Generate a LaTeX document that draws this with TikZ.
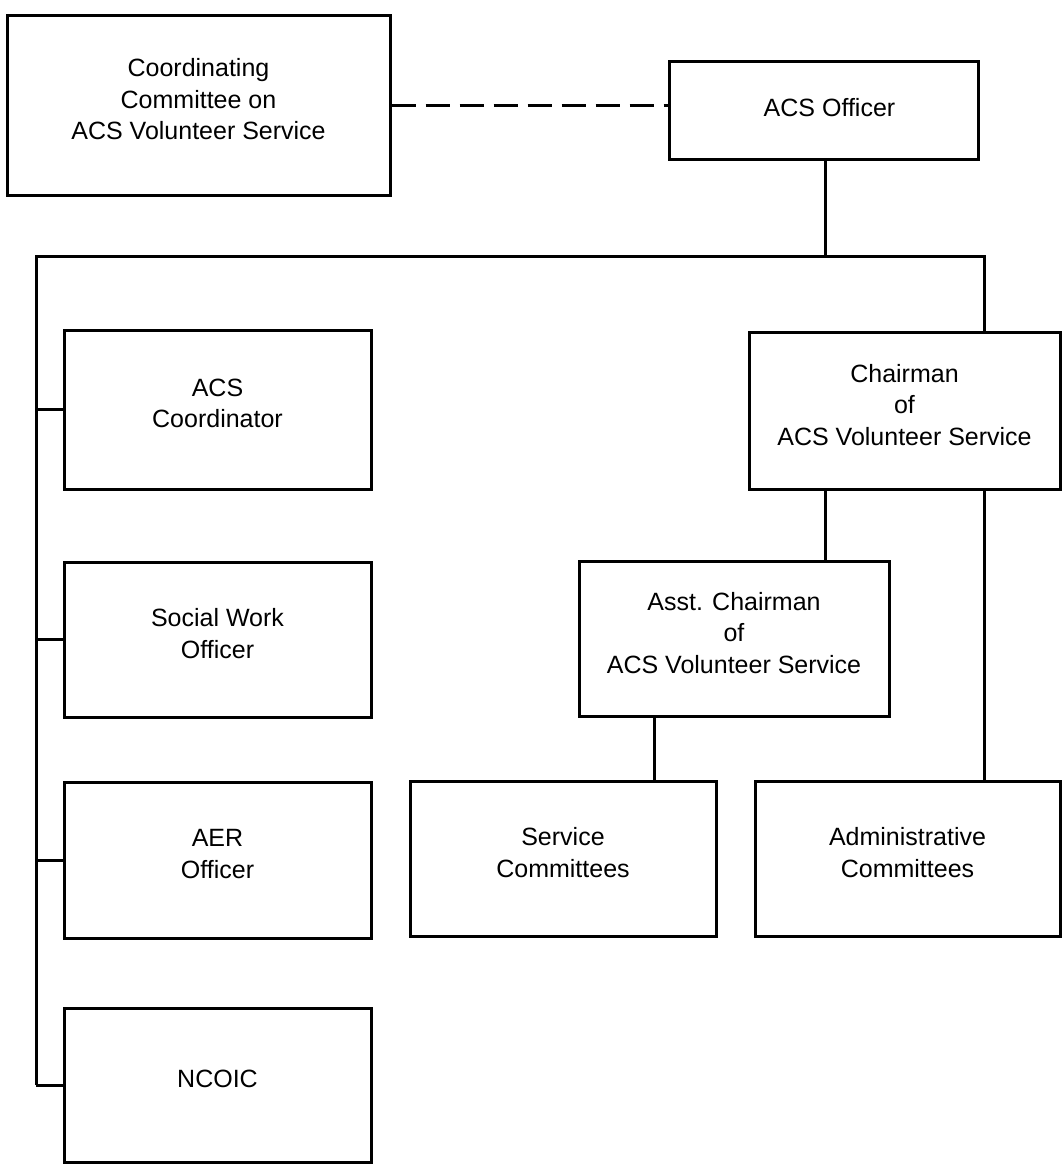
\documentclass[tikz,border=0pt]{standalone}
\usepackage{fontspec}
\setmainfont{Liberation Sans}
\begin{document}
\begin{tikzpicture}[x=1pt,y=-1pt,
  box/.style={draw, line width=3pt, rectangle, inner sep=0pt, align=center,
    font=\fontsize{25}{31.5}\selectfont, text depth=12pt},
  conn/.style={line width=3pt},
  dashconn/.style={line width=3pt, dash pattern=on 24pt off 10pt}]
\useasboundingbox (0,0) rectangle (1062,1168);
% boxes
\node[box, minimum width=383pt, minimum height=180pt] (coord) at (198.5,105) {Coordinating\\Committee on\\ACS Volunteer Service};
\node[box, minimum width=309pt, minimum height=98pt, text depth=6pt] (acso) at (823.5,110) {\hspace*{12pt}ACS Officer};
\node[box, minimum width=311pt, minimum height=157pt] (chair) at (904.5,410.5) {Chairman\\of\\ACS Volunteer Service};
\node[box, minimum width=310pt, minimum height=155pt] (asst) at (734,638.5) {Asst. Chairman\\of\\ACS Volunteer Service};
\node[box, minimum width=306pt, minimum height=155pt] (serv) at (563,858.5) {Service\\Committees};
\node[box, minimum width=305pt, minimum height=155pt] (admin) at (907.5,858.5) {Administrative\\Committees};
\node[box, minimum width=307pt, minimum height=159pt] (acsc) at (217.5,409.5) {ACS\\Coordinator};
\node[box, minimum width=307pt, minimum height=155pt] (social) at (217.5,639.5) {Social Work\\Officer};
\node[box, minimum width=307pt, minimum height=156pt] (aer) at (217.5,860) {AER\\Officer};
\node[box, minimum width=307pt, minimum height=154pt] (ncoic) at (217.5,1085) {NCOIC};
% helper coordinates
\coordinate (tl) at (36,256);
\coordinate (tr) at (984,256);
\coordinate (xa) at (825,0);
\coordinate (xs) at (654,0);
% connectors
\draw[dashconn] (coord.east) -- (coord.east -| acso.west);
\draw[conn] (acso.south -| xa) -- (xa |- tl);
\draw[conn] (tl |- ncoic) -- (tl) -- (tr) -- (tr |- chair.north);
\draw[conn] (tl |- acsc) -- (acsc.west);
\draw[conn] (tl |- social) -- (social.west);
\draw[conn] (tl |- aer) -- (aer.west);
\draw[conn] (tl |- ncoic) -- (ncoic.west);
\draw[conn] (chair.south -| xa) -- (asst.north -| xa);
\draw[conn] (asst.south -| xs) -- (serv.north -| xs);
\draw[conn] (chair.south -| tr) -- (admin.north -| tr);
\end{tikzpicture}
\end{document}
